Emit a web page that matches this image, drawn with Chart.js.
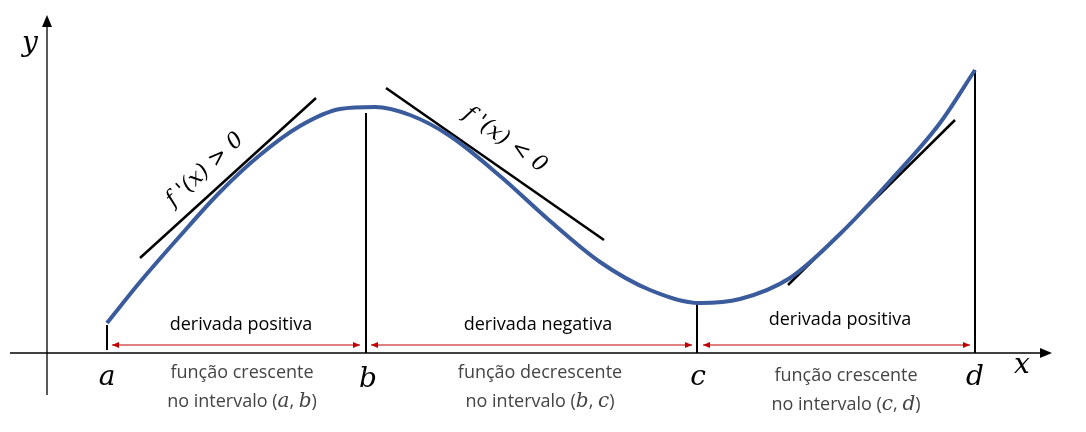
<!DOCTYPE html>
<html><head><meta charset="utf-8">
<script src="https://cdn.jsdelivr.net/npm/chart.js@4"></script>
<style>html,body{margin:0;background:#fff}</style>
</head><body>
<canvas id="c" width="1086" height="432"></canvas>
<script>
// Diagram coordinates (x right, y down, in picture units)
const curveX = [107,140,180,220,260,300,340,375,410,450,500,550,600,650,700,740,790,840,890,940,975];
const curveY = [323,282,236,192,155,126,109,107,115,136,176,221,262,290,303,299,278,234,181,123,70];
const tangents = [[[140,258],[316,98]],[[386,88],[604,240]],[[788,285],[955,120]]];
const verticals = [[107,325,350],[366,113,353],[697,303,353],[975,70,353]];
const arrows = [[112,360],[371,692],[703,970]];
const arrowY = 345;
const pointNames = ['a','b','c','d'];
const pointLabelPos = [[107,378],[368,380],[698,378],[975,378]];
const topLabels = ['derivada positiva','derivada negativa','derivada positiva'];
const topLabelPos = [[241,325],[538,325],[840,320]];
const bottomLine1 = ['função crescente','função decrescente','função crescente'];
const bottomLine2 = [['no intervalo (','a',', ','b',')'],['no intervalo (','b',', ','c',')'],['no intervalo (','c',', ','d',')']];
const bottomPos = [[242,373],[540,373],[846,376]];

const blue = '#3A5B9C';
const datasets = [];
datasets.push({data:[{x:10,y:353},{x:1045,y:353}],borderColor:'#000',borderWidth:1.3,pointRadius:0,tension:0});
datasets.push({data:[{x:47,y:395},{x:47,y:22}],borderColor:'#000',borderWidth:1.3,pointRadius:0,tension:0});
datasets.push({data:curveX.map((x,i)=>({x,y:curveY[i]})),borderColor:blue,borderWidth:4,pointRadius:0,cubicInterpolationMode:'monotone'});
tangents.forEach(t=>datasets.push({data:t.map(p=>({x:p[0],y:p[1]})),borderColor:'#000',borderWidth:2.5,pointRadius:0,tension:0}));
verticals.forEach(v=>datasets.push({data:[{x:v[0],y:v[1]},{x:v[0],y:v[2]}],borderColor:'#000',borderWidth:2,pointRadius:0,tension:0}));

const deco = {id:'deco',afterDatasetsDraw(chart){
  const c=chart.ctx, xs=chart.scales.x, ys=chart.scales.y;
  const X=v=>xs.getPixelForValue(v), Y=v=>ys.getPixelForValue(v);
  c.save();
  c.fillStyle='#000';
  c.beginPath();c.moveTo(X(1052),Y(353));c.lineTo(X(1040),Y(348));c.lineTo(X(1040),Y(358));c.fill();
  c.beginPath();c.moveTo(X(47),Y(15));c.lineTo(X(42),Y(27));c.lineTo(X(52),Y(27));c.fill();
  c.strokeStyle='#C00000';c.fillStyle='#C00000';c.lineWidth=1;
  arrows.forEach(([a,b])=>{
    c.beginPath();c.moveTo(X(a),Y(arrowY));c.lineTo(X(b),Y(arrowY));c.stroke();
    c.beginPath();c.moveTo(X(a),Y(arrowY));c.lineTo(X(a)+7,Y(arrowY)-3);c.lineTo(X(a)+7,Y(arrowY)+3);c.fill();
    c.beginPath();c.moveTo(X(b),Y(arrowY));c.lineTo(X(b)-7,Y(arrowY)-3);c.lineTo(X(b)-7,Y(arrowY)+3);c.fill();
  });
  c.fillStyle='#000';c.textAlign='center';c.textBaseline='middle';
  c.font='18px "Open Sans"';
  topLabels.forEach((t,i)=>c.fillText(t,X(topLabelPos[i][0]),Y(topLabelPos[i][1])));
  c.fillStyle='#444';
  bottomLine1.forEach((t,i)=>c.fillText(t,X(bottomPos[i][0]),Y(bottomPos[i][1])));
  bottomLine2.forEach((parts,i)=>{
    const fonts=parts.map((p,j)=>j%2===1?'italic 20px "DejaVu Serif"':'18px "Open Sans"');
    let w=0;parts.forEach((p,j)=>{c.font=fonts[j];w+=c.measureText(p).width;});
    let x=X(bottomPos[i][0])-w/2;c.textAlign='left';
    parts.forEach((p,j)=>{c.font=fonts[j];c.fillText(p,x,Y(bottomPos[i][1]+29));x+=c.measureText(p).width;});
    c.textAlign='center';
  });
  c.fillStyle='#000';
  c.font='italic 28px "DejaVu Serif"';
  pointNames.forEach((n,i)=>c.fillText(n,X(pointLabelPos[i][0]),Y(pointLabelPos[i][1])));
  c.fillText('x',X(1022),Y(366));c.fillText('y',X(30),Y(44));
  c.font='italic 22px "DejaVu Serif"';
  c.save();c.translate(X(205),Y(170));c.rotate(-0.75);c.fillText("f '(x) > 0",0,0);c.restore();
  c.save();c.translate(X(505),Y(140));c.rotate(0.62);c.fillText("f '(x) < 0",0,0);c.restore();
  c.restore();
}};

new Chart(document.getElementById('c'),{type:'line',data:{datasets},
  options:{responsive:false,animation:false,layout:{padding:0},
    plugins:{legend:{display:false},tooltip:{enabled:false}},
    scales:{x:{type:'linear',min:0,max:1086,display:false},y:{type:'linear',min:0,max:432,reverse:true,display:false}}},
  plugins:[deco]});
</script>
</body></html>
